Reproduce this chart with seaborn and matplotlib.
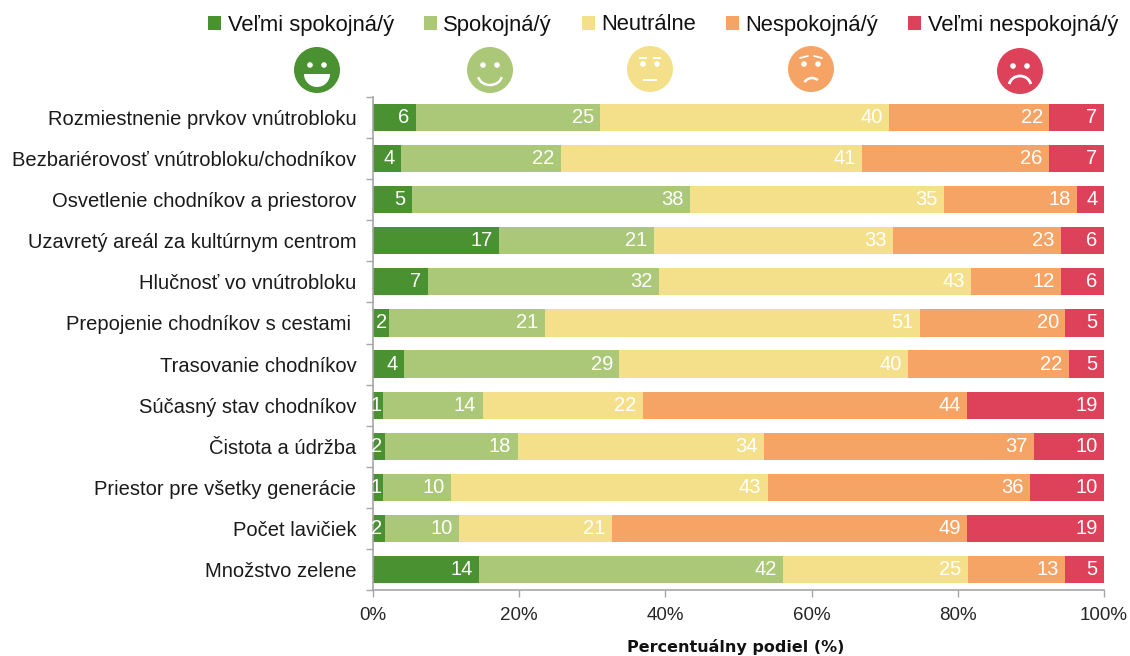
import numpy as np
import pandas as pd
import matplotlib
matplotlib.use("Agg")
import matplotlib.pyplot as plt
from matplotlib.patches import Circle, Arc, Rectangle, Wedge
import seaborn as sns

categories = ["Rozmiestnenie prvkov vnútrobloku", "Bezbariérovosť vnútrobloku/chodníkov",
              "Osvetlenie chodníkov a priestorov", "Uzavretý areál za kultúrnym centrom",
              "Hlučnosť vo vnútrobloku", "Prepojenie chodníkov s cestami ",
              "Trasovanie chodníkov", "Súčasný stav chodníkov", "Čistota a údržba",
              "Priestor pre všetky generácie", "Počet lavičiek", "Množstvo zelene"]
series_names = ["Veľmi spokojná/ý", "Spokojná/ý", "Neutrálne", "Nespokojná/ý", "Veľmi nespokojná/ý"]
velmi_spokojna = [5.9, 3.8, 5.3, 17.2, 7.5, 2.2, 4.2, 1.4, 1.6, 1.4, 1.6, 14.5]
spokojna = [25.2, 21.9, 38.1, 21.2, 31.6, 21.3, 29.5, 13.6, 18.2, 9.3, 10.2, 41.6]
neutralne = [39.5, 41.2, 34.7, 32.7, 42.7, 51.3, 39.5, 21.9, 33.7, 43.3, 20.9, 25.3]
nespokojna = [21.9, 25.6, 18.2, 23.0, 12.3, 19.9, 22.0, 44.4, 36.9, 35.9, 48.6, 13.3]
velmi_nespokojna = [7.5, 7.5, 3.7, 5.9, 5.9, 5.3, 4.8, 18.7, 9.6, 10.1, 18.7, 5.3]
labels_vs = [6, 4, 5, 17, 7, 2, 4, 1, 2, 1, 2, 14]
labels_s = [25, 22, 38, 21, 32, 21, 29, 14, 18, 10, 10, 42]
labels_n = [40, 41, 35, 33, 43, 51, 40, 22, 34, 43, 21, 25]
labels_ne = [22, 26, 18, 23, 12, 20, 22, 44, 37, 36, 49, 13]
labels_vn = [7, 7, 4, 6, 6, 5, 5, 19, 10, 10, 19, 5]
colors = ["#4A9131", "#ABC778", "#F4E08A", "#F6A465", "#DE425B"]

values = [velmi_spokojna, spokojna, neutralne, nespokojna, velmi_nespokojna]
value_labels = [labels_vs, labels_s, labels_n, labels_ne, labels_vn]

sns.set_theme(style="white")
plt.rcParams["font.family"] = ["Liberation Sans", "DejaVu Sans"]
W, H = 1130, 656
fig = plt.figure(figsize=(W / 100, H / 100), dpi=100)
ax = fig.add_axes([373 / W, 1 - 590 / H, (1104 - 373) / W, (590 - 97) / H])

left = np.zeros(len(categories))
for name, vals, col, labs in zip(series_names, values, colors, value_labels):
    df = pd.DataFrame({"cat": categories, "val": vals})
    n_before = len(ax.containers)
    sns.barplot(data=df, x="val", y="cat", orient="y", color=col, saturation=1,
                width=0.66, left=left, label=name, ax=ax, errorbar=None, linewidth=0)
    cont = ax.containers[n_before]
    texts = ax.bar_label(cont, labels=[str(v) for v in labs], label_type="edge",
                         padding=-4.6, color="white", fontsize=14.5)
    for t, v in zip(texts, vals):
        t.set_ha("right")
        if v < 3:
            t.xyann = (-1.5, 0)
    left = left + np.array(vals)

handles, leg_labels = ax.get_legend_handles_labels()
if ax.get_legend() is not None:
    ax.get_legend().remove()

ax.set_xlim(0, 100)
ax.set_ylim(len(categories) - 0.5, -0.5)
ax.set_xticks(np.arange(0, 101, 20))
ax.set_xticklabels([f"{v}%" for v in range(0, 101, 20)], fontsize=13.5, color="#262626")
ax.set_yticks(np.arange(-0.5, len(categories), 1))
ax.set_yticklabels([])
ax.set_yticks(np.arange(len(categories)), minor=True)
ax.set_yticklabels(categories, minor=True, fontsize=14.5, color="#1a1a1a")
ax.tick_params(axis="y", which="major", length=5, width=1, color="#a6a6a6", left=True)
ax.tick_params(axis="y", which="minor", length=0, pad=12)
ax.tick_params(axis="x", length=5, width=1, color="#a6a6a6", bottom=True, pad=7)
ax.set_xlabel("")
ax.set_ylabel("")
for side in ["top", "right"]:
    ax.spines[side].set_visible(False)
for side in ["left", "bottom"]:
    ax.spines[side].set_color("#a6a6a6")
    ax.spines[side].set_linewidth(1.2)

fig.text(736 / W, 1 - 647 / H, "Percentuálny podiel (%)", ha="center", va="center",
         fontsize=11.5, fontweight="bold", family="DejaVu Sans", color="#111111")

fig.legend(handles, leg_labels, loc="center", bbox_to_anchor=(663 / W, 1 - 25 / H), ncol=5,
           frameon=False, fontsize=15.8, handlelength=0.6, handleheight=0.6,
           handletextpad=0.3, columnspacing=1.35, borderpad=0, labelcolor="#111111")

# Smiley decoration in pixel space
ov = fig.add_axes([0, 0, 1, 1], facecolor="none")
ov.set_xlim(0, W)
ov.set_ylim(H, 0)
ov.axis("off")
R = 23
faces = [(317, 70, 0), (490, 70, 1), (650, 69, 2), (811, 69, 3), (1020, 71, 4)]
for cx, cy, i in faces:
    ov.add_patch(Circle((cx, cy), R, color=colors[i], lw=0))
    ov.add_patch(Circle((cx - 7, cy - 5), 2.8, color="white", lw=0))
    ov.add_patch(Circle((cx + 7, cy - 5), 2.8, color="white", lw=0))
    if i == 0:
        ov.add_patch(Wedge((cx, cy + 4), 13, 0, 180, color="white", lw=0))
    elif i == 1:
        ov.add_patch(Arc((cx, cy + 5), 24, 20, theta1=10, theta2=170, color="white", lw=1.8))
    elif i == 2:
        ov.add_patch(Rectangle((cx - 7, cy + 10), 14, 2.2, color="white", lw=0))
        ov.add_patch(Rectangle((cx - 11, cy - 12), 8, 1.8, color="white", lw=0))
        ov.add_patch(Rectangle((cx + 3, cy - 12), 8, 1.8, color="white", lw=0))
    elif i == 3:
        ov.add_patch(Arc((cx + 1, cy + 16), 16, 14, theta1=200, theta2=320, color="white", lw=1.8))
        ov.plot([cx - 11, cx - 3], [cy - 11, cy - 13], color="white", lw=1.3)
        ov.plot([cx + 3, cx + 11], [cy - 13, cy - 11], color="white", lw=1.3)
    else:
        ov.add_patch(Arc((cx, cy + 15), 22, 20, theta1=190, theta2=350, color="white", lw=2))

fig.savefig("out.png", dpi=100)
